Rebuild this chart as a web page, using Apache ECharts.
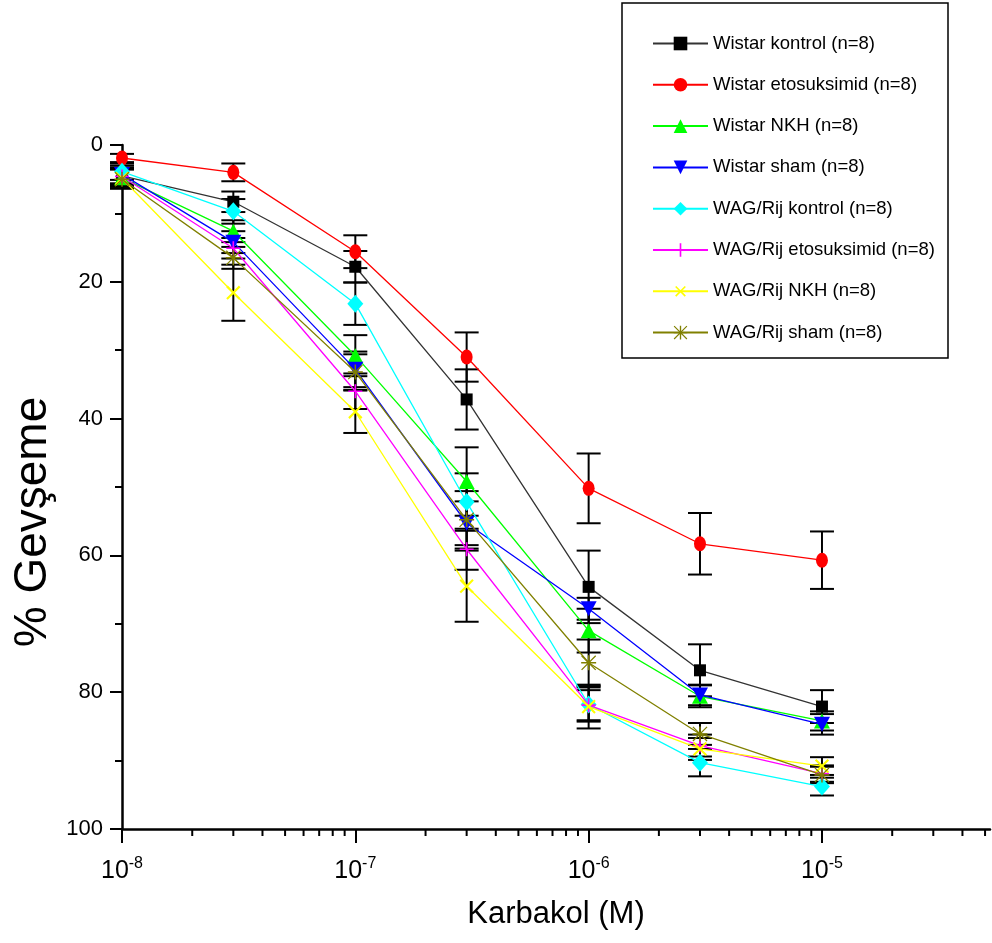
<!DOCTYPE html>
<html>
<head>
<meta charset="utf-8">
<script src="https://cdn.jsdelivr.net/npm/echarts@6/dist/echarts.min.js"></script>
<style>html,body{margin:0;padding:0;background:#fff;}#c{width:992px;height:943px;}</style>
</head>
<body>
<div id="c"></div>
<script>
const concentrations = [1e-8, 3e-8, 1e-7, 3e-7, 1e-6, 3e-6, 1e-5];
const seriesNames = ['Wistar kontrol (n=8)', 'Wistar etosuksimid (n=8)', 'Wistar NKH (n=8)', 'Wistar sham (n=8)',
  'WAG/Rij kontrol (n=8)', 'WAG/Rij etosuksimid (n=8)', 'WAG/Rij NKH (n=8)', 'WAG/Rij sham (n=8)'];
const wistarKontrol = [4.5, 8.3, 17.8, 37.2, 64.6, 76.8, 82.1];
const wistarKontrolErr = [1.2, 1.5, 2.3, 4.4, 5.3, 3.8, 2.4];
const wistarEto = [1.9, 4.0, 15.6, 31.0, 50.2, 58.3, 60.7];
const wistarEtoErr = [0.6, 1.3, 2.4, 3.6, 5.1, 4.5, 4.2];
const wistarNKH = [4.8, 12.6, 30.8, 49.2, 71.0, 80.6, 84.2];
const wistarNKHErr = [1.3, 1.6, 3.0, 5.0, 3.2, 1.6, 1.4];
const wistarSham = [4.3, 14.2, 32.8, 55.3, 67.8, 80.4, 84.7];
const wistarShamErr = [1.3, 1.6, 2.6, 3.2, 1.6, 1.5, 1.5];
const wagKontrol = [3.9, 9.7, 23.2, 52.2, 81.8, 90.3, 93.8];
const wagKontrolErr = [1.2, 1.8, 3.1, 4.2, 2.5, 2.0, 1.3];
const wagEto = [4.6, 15.1, 36.0, 59.1, 81.9, 87.8, 91.9];
const wagEtoErr = [1.3, 1.5, 2.6, 3.0, 2.2, 1.6, 1.2];
const wagNKH = [4.9, 21.6, 39.0, 64.5, 82.1, 88.3, 90.8];
const wagNKHErr = [1.4, 4.1, 3.1, 5.2, 3.2, 1.6, 1.3];
const wagSham = [5.0, 16.5, 33.2, 54.8, 75.7, 86.1, 92.1];
const wagShamErr = [1.4, 1.6, 2.6, 4.2, 3.4, 1.6, 1.2];
const majorTicksX = [1e-8, 1e-7, 1e-6, 1e-5];
const minorTicksX = [2e-8,3e-8,4e-8,5e-8,6e-8,7e-8,8e-8,9e-8,
  2e-7,3e-7,4e-7,5e-7,6e-7,7e-7,8e-7,9e-7,
  2e-6,3e-6,4e-6,5e-6,6e-6,7e-6,8e-6,9e-6,
  2e-5,3e-5,4e-5,5e-5];

const values = [wistarKontrol, wistarEto, wistarNKH, wistarSham, wagKontrol, wagEto, wagNKH, wagSham];
const errors = [wistarKontrolErr, wistarEtoErr, wistarNKHErr, wistarShamErr, wagKontrolErr, wagEtoErr, wagNKHErr, wagShamErr];
const colors = ['#000000', '#ff0000', '#00ff00', '#0000ff', '#00ffff', '#ff00ff', '#ffff00', '#808000'];
const lineColors = ['#333333', '#ff0000', '#00ff00', '#0000ff', '#00ffff', '#ff00ff', '#ffff00', '#808000'];
const PLUS = 'path://M4.4,0H5.6V4.4H10V5.6H5.6V10H4.4V5.6H0V4.4H4.4Z';
const STAR = 'path://M4.5,0H5.5V10H4.5Z M0,4.5H10V5.5H0Z M0,0.6L0.6,0L10,9.4L9.4,10Z M9.4,0L10,0.6L0.6,10L0,9.4Z';
const symbols = [
  {symbol: 'rect', size: 12, rot: 0},
  {symbol: 'circle', size: [12, 15], rot: 0},
  {symbol: 'triangle', size: [16, 15], rot: 0},
  {symbol: 'triangle', size: [16, 15], rot: 180},
  {symbol: 'diamond', size: [16, 18], rot: 0},
  {symbol: PLUS, size: 14, rot: 0},
  {symbol: PLUS, size: 18, rot: 45},
  {symbol: STAR, size: 15, rot: 0}
];

const FONT = "'Liberation Sans', Arial, sans-serif";
const X_MAX = 5.25e-5;

const series = [];
values.forEach((vals, i) => {
  series.push({
    type: 'custom',
    name: seriesNames[i] + ' SE',
    z: 2,
    silent: true,
    renderItem: function (params, api) {
      const x = api.value(0), y = api.value(1), e = api.value(2);
      const top = api.coord([x, y - e]);
      const bot = api.coord([x, y + e]);
      const st = {stroke: '#000', lineWidth: 2};
      return {
        type: 'group',
        children: [
          {type: 'line', shape: {x1: top[0], y1: top[1], x2: bot[0], y2: bot[1]}, style: st},
          {type: 'line', shape: {x1: top[0] - 12, y1: top[1], x2: top[0] + 12, y2: top[1]}, style: st},
          {type: 'line', shape: {x1: bot[0] - 12, y1: bot[1], x2: bot[0] + 12, y2: bot[1]}, style: st}
        ]
      };
    },
    encode: {x: 0, y: 1},
    data: concentrations.map((c, k) => [c, vals[k], errors[i][k]])
  });
});
values.forEach((vals, i) => {
  series.push({
    type: 'line',
    name: seriesNames[i],
    z: 3 + i,
    symbol: symbols[i].symbol,
    symbolSize: symbols[i].size,
    symbolRotate: symbols[i].rot,
    showSymbol: true,
    itemStyle: {color: colors[i]},
    lineStyle: {color: lineColors[i], width: 1.3},
    data: concentrations.map((c, k) => [c, vals[k]])
  });
});
// minor ticks of the log x-axis
series.push({
  type: 'custom',
  name: 'minorTicks',
  silent: true,
  clip: false,
  z: 1,
  renderItem: function (params, api) {
    const p = api.coord([api.value(0), 100]);
    return {type: 'line', shape: {x1: p[0], y1: p[1], x2: p[0], y2: p[1] + 7}, style: {stroke: '#000', lineWidth: 2}};
  },
  encode: {x: 0},
  data: minorTicksX.map(v => [v])
});

const chart = echarts.init(document.getElementById('c'), null, {renderer: 'canvas'});
chart.setOption({
  backgroundColor: '#ffffff',
  animation: false,
  grid: {left: 122, right: 2, top: 145, bottom: 114, containLabel: false},
  xAxis: {
    type: 'log',
    logBase: 10,
    min: 1e-8,
    max: X_MAX,
    splitLine: {show: false},
    axisLine: {show: true, onZero: false, lineStyle: {color: '#000', width: 2.5}},
    axisTick: {show: true, length: 14, lineStyle: {color: '#000', width: 2}, customValues: majorTicksX},
    axisLabel: {
      customValues: majorTicksX,
      margin: 27,
      formatter: function (v) {
        const e = Math.round(Math.log10(v));
        if (Math.abs(Math.log10(v) - e) > 1e-6) return '';
        return '{b|10}{s|' + e + '}';
      },
      rich: {
        b: {fontFamily: FONT, fontSize: 25, color: '#000', verticalAlign: 'bottom', lineHeight: 28},
        s: {fontFamily: FONT, fontSize: 16, color: '#000', verticalAlign: 'top', lineHeight: 28, padding: [0, 0, 14, 0]}
      }
    },
    name: 'Karbakol (M)',
    nameLocation: 'middle',
    nameGap: 70,
    nameTextStyle: {fontFamily: FONT, fontSize: 31, color: '#000'}
  },
  yAxis: {
    type: 'value',
    inverse: true,
    min: 0,
    max: 100,
    interval: 20,
    splitLine: {show: false},
    axisLine: {show: true, lineStyle: {color: '#000', width: 2.5}},
    axisTick: {show: true, length: 12, lineStyle: {color: '#000', width: 2}},
    minorTick: {show: true, splitNumber: 2, length: 7, lineStyle: {color: '#000', width: 2}},
    minorSplitLine: {show: false},
    axisLabel: {margin: 19, fontFamily: FONT, fontSize: 22, color: '#000'}
  },
  legend: {
    orient: 'vertical',
    left: 647,
    top: 27.5,
    itemWidth: 55,
    itemHeight: 17,
    itemGap: 19.3,
    textStyle: {fontFamily: FONT, fontSize: 18.5, color: '#000', lineHeight: 22},
    data: seriesNames
  },
  graphic: [
    {type: 'rect', shape: {x: 622, y: 3, width: 326, height: 355}, style: {fill: 'rgba(0,0,0,0)', stroke: '#000', lineWidth: 1.5}, z: -1},
    {type: 'text', x: 33, y: 522, rotation: Math.PI / 2,
      style: {text: '% Gevşeme', fontFamily: FONT, fontSize: 46, fill: '#000', align: 'center', verticalAlign: 'middle'}}
  ],
  series: series
});
</script>
</body>
</html>
